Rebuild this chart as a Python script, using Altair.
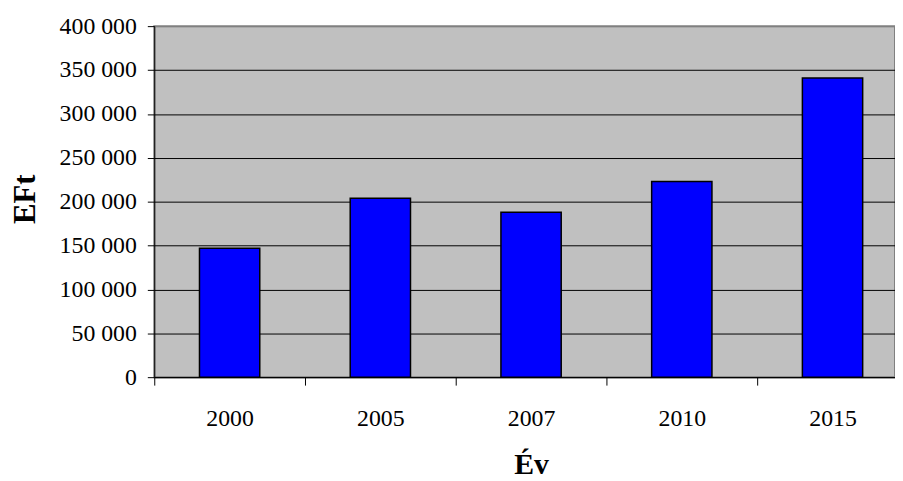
import altair as alt
import pandas as pd

years = ["2000", "2005", "2007", "2010", "2015"]
values = [147000, 204000, 188000, 223000, 341000]

df = pd.DataFrame({"year": years, "value": values})

FONT = "Liberation Serif"

chart = alt.Chart(df).mark_bar(
    color="#0000FF", stroke="black", strokeWidth=1.5,
    width=alt.RelativeBandSize(0.4),
).encode(
    x=alt.X(
        "year:N",
        sort=years,
        scale=alt.Scale(range=[0, 760], paddingInner=0, paddingOuter=0),
        axis=alt.Axis(
            title="Év",
            labelAngle=0,
            tickBand="extent",
            tickSize=8,
            tickColor="black",
            domainColor="black",
            labelPadding=22,
            titlePadding=19,
            titleX=380,
            titleFontSize=30,
            grid=False,
        ),
    ),
    y=alt.Y(
        "value:Q",
        scale=alt.Scale(domain=[0, 400000]),
        axis=alt.Axis(
            title="EFt",
            values=[0, 50000, 100000, 150000, 200000, 250000, 300000, 350000, 400000],
            labelExpr="replace(format(datum.value, ','), /,/g, ' ')",
            tickSize=7,
            tickColor="black",
            domainColor="black",
            labelPadding=11,
            titlePadding=18,
            titleY=174,
            titleFontSize=31,
            grid=True,
            gridColor={"condition": {"test": "datum.value == 400000", "value": "#808080"}, "value": "black"},
            gridWidth=1,
        ),
    ),
).properties(
    width=747,
    height=354,
    autosize=alt.AutoSizeParams(type="none"),
    padding={"left": 147.5, "top": 16.3, "right": 0, "bottom": 102},
).configure_view(
    fill="#C0C0C0", stroke="#808080", strokeWidth=2
).configure_axis(
    labelFont=FONT,
    titleFont=FONT,
    labelFontSize=24,
    labelColor="black",
    titleColor="black",
    titleFontWeight="bold",
)

chart.save("out.html", embed_options={"renderer": "svg", "actions": False})
